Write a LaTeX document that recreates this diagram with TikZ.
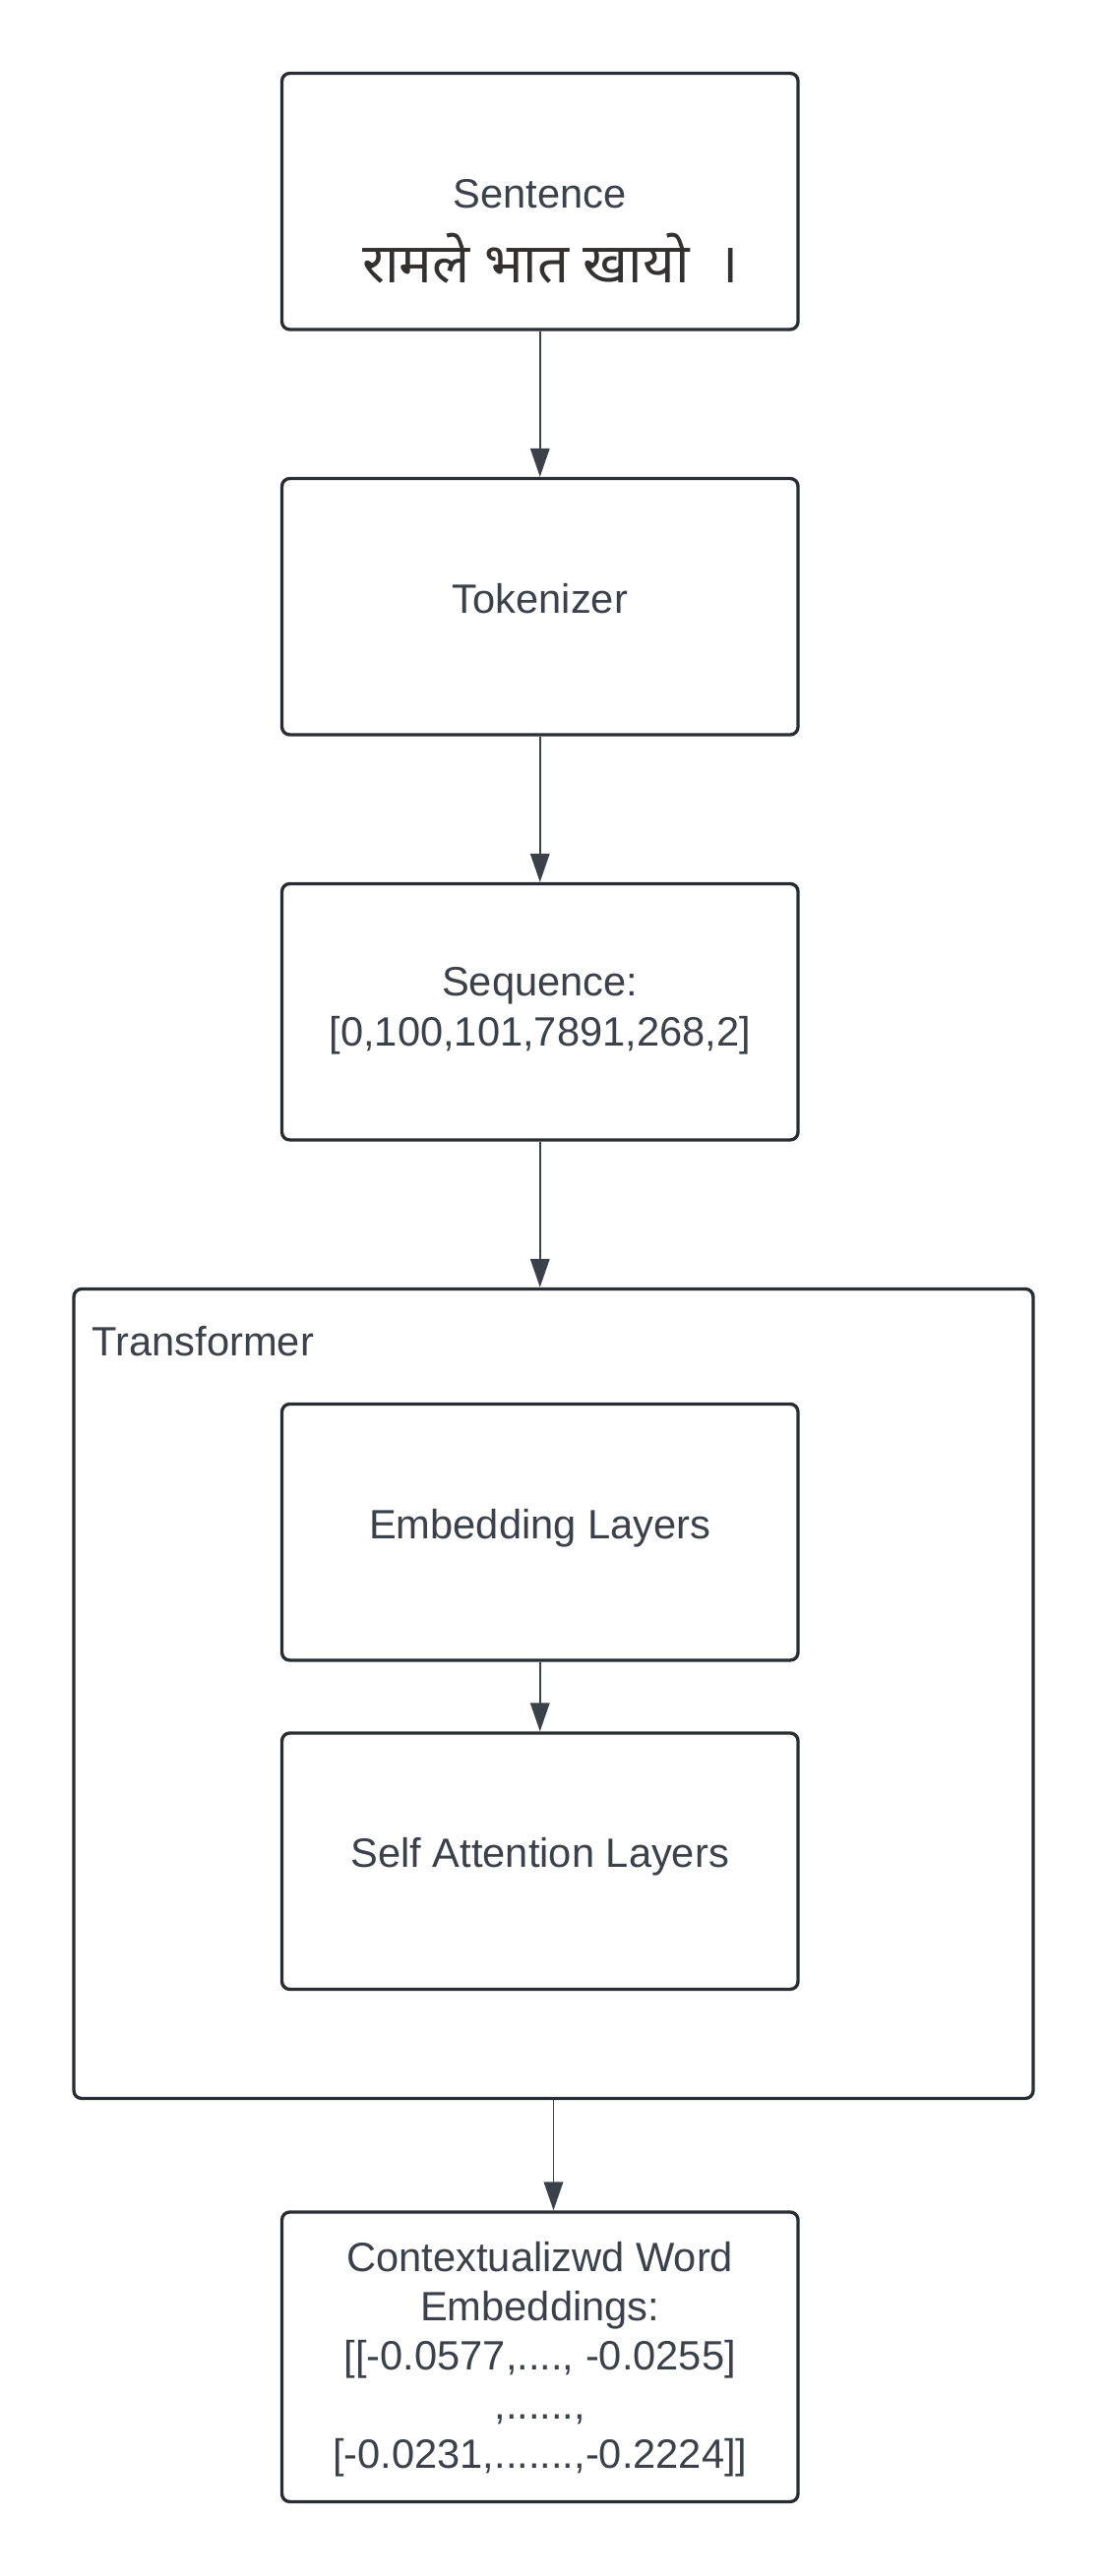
\documentclass[tikz,border=0pt]{standalone}
\usepackage{fontspec}
\setmainfont{Liberation Sans}
\newfontfamily\devfont[Script=Devanagari]{Noto Sans}
\usetikzlibrary{positioning}
\usetikzlibrary{arrows.meta}
\definecolor{textgray}{RGB}{58,65,74}
\definecolor{linegray}{RGB}{40,44,51}
\definecolor{devgray}{RGB}{52,48,46}
\tikzstyle{arrow} = [draw=textgray, line width=1.1pt, -{Triangle[width=0.39cm,length=0.58cm]}]

\begin{document}
\begin{tikzpicture}[box/.style={rectangle, draw=linegray, line width=1.9pt, rounded corners=0.16cm, minimum width=10.49cm, minimum height=5.21cm, align=center, text=textgray, text depth=10pt, font=\fontsize{23.7}{28.5}\selectfont}]
	\useasboundingbox (0,0) rectangle (22.5,-52.38);
	
	% BOXES
	
	\node [box] (sentence) at (10.975,-4.095) {};
	\node [text=textgray, font=\fontsize{23.7}{28.5}\selectfont] (sentencetext) at ([yshift=0.15cm]sentence.center) {Sentence};
	\node [text=devgray, font=\devfont\fontsize{32}{38}\selectfont] (sentencedev) at ([shift={(0.22,-1.16)}]sentence.center) {रामले भात खायो~ ।};
	
	\node [box, below=2.963cm of sentence] (tokenizer) {Tokenizer};
	
	\node [box, text depth=6pt, below=2.963cm of tokenizer] (sequence) {Sequence:\\{}[0,100,101,7891,268,2]};
	
	% TRANSFORMER
	
	\node [box, minimum width=19.5cm, minimum height=16.46cm, below=2.963cm of sequence, xshift=0.275cm] (transformer) {};
	\node [anchor=west, inner sep=0pt, text=textgray, font=\fontsize{23.7}{28.5}\selectfont] (transformerlabel) at ([shift={(0.4,-1.1)}]transformer.north west) {Transformer};
	
	\node [box, below=5.303cm of sequence] (embedding) {Embedding Layers};
	\node [box, below=1.413cm of embedding] (attention) {Self Attention Layers};
	
	% OUTPUT
	
	\node [box, text depth=2pt, minimum height=5.89cm, below=2.243cm of transformer, xshift=-0.275cm] (embeddings) {Contextualizwd Word\\Embeddings:\\{}[[-0.0577,...., -0.0255]\\,......,\\{}[-0.0231,.......,-0.2224]]};
	
	% ARROWS
	
	\draw [arrow] (sentence) -- (tokenizer);
	\draw [arrow] (tokenizer) -- (sequence);
	\draw [arrow] (sequence.south) -- (sequence.south |- transformer.north);
	\draw [arrow] (embedding) -- (attention);
	\draw [arrow] (transformer.south) -- (transformer.south |- embeddings.north);
	
\end{tikzpicture}
\end{document}
